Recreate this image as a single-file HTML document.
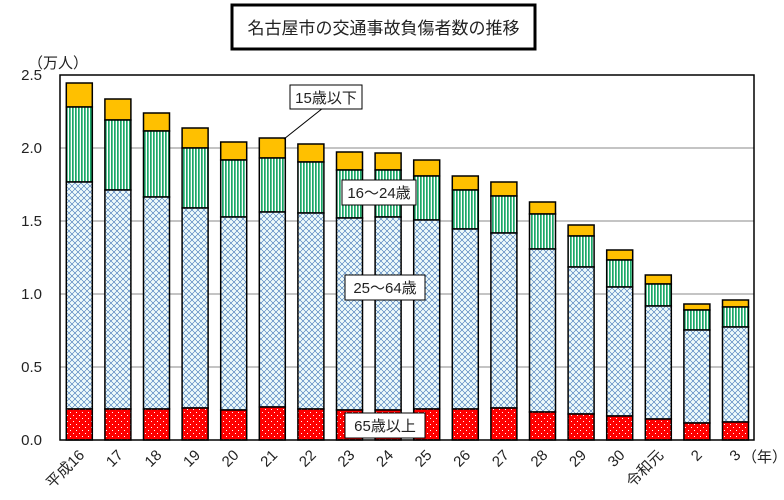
<!DOCTYPE html>
<html><head><meta charset="utf-8"><style>
body{margin:0;background:#fff}
svg{display:block;font-family:"Liberation Sans","Noto Sans CJK JP",sans-serif}
</style></head><body>
<svg width="784" height="500" viewBox="0 0 784 500" xmlns="http://www.w3.org/2000/svg">
<defs>
<pattern id="dots" width="6" height="6" patternUnits="userSpaceOnUse"><rect width="6" height="6" fill="#FF0000"/><rect x="1" y="1" width="1" height="1" fill="#fff"/><rect x="4" y="4" width="1" height="1" fill="#fff"/></pattern>
<pattern id="cross" width="6" height="6" patternUnits="userSpaceOnUse"><rect width="6" height="6" fill="#EEFBFB"/><path d="M0 0L6 6M6 0L0 6" stroke="#3A6FB5" stroke-width="0.6"/></pattern>
<pattern id="vert" width="3" height="4" patternUnits="userSpaceOnUse"><rect width="3" height="4" fill="#fff"/><rect width="1.7" height="4" fill="#1AA868"/></pattern>
</defs>
<rect x="232" y="5" width="303" height="44" fill="#fff" stroke="#000" stroke-width="3"/>
<text x="383.5" y="34" font-size="17" text-anchor="middle" fill="#222">名古屋市の交通事故負傷者数の推移</text>
<g stroke="#888" stroke-width="1">
<line x1="60" y1="148" x2="754" y2="148"/><line x1="60" y1="221" x2="754" y2="221"/><line x1="60" y1="294" x2="754" y2="294"/><line x1="60" y1="367" x2="754" y2="367"/>
</g>
<g font-size="15" fill="#222" text-anchor="end">
<text x="42" y="80">2.5</text><text x="42" y="153">2.0</text><text x="42" y="226">1.5</text><text x="42" y="299">1.0</text><text x="42" y="372">0.5</text><text x="42" y="445">0.0</text>
</g>
<text x="28" y="68" font-size="15" fill="#222">（万人）</text>
<g id="bars" stroke="#000" stroke-width="1.5"></g>
<rect x="60" y="75" width="694" height="365" fill="none" stroke="#000" stroke-width="1.5"/>
<g id="xl"></g>
<text x="742" y="462" font-size="15" fill="#222">（年）</text>
<line x1="284" y1="139" x2="323" y2="108" stroke="#000" stroke-width="1"/>
<g font-size="15" fill="#222" text-anchor="middle">
<rect x="290" y="85" width="72" height="24" fill="#fff" stroke="#000"/><text x="326" y="103">15歳以下</text>
<rect x="342" y="180" width="74" height="25" fill="#fff" stroke="#000"/><text x="379" y="198">16～24歳</text>
<rect x="345" y="275" width="80" height="25" fill="#fff" stroke="#000"/><text x="385" y="293">25～64歳</text>
<rect x="345" y="413" width="80" height="25" fill="#fff" stroke="#000"/><text x="385" y="431">65歳以上</text>
</g>
</svg>
<script>
var NS='http://www.w3.org/2000/svg';
var d=[[83,107,182,409],[99,120,190,409],[113,131,197,409],[128,148,208,408],[142,160,217,410],[138,158,212,407],[144,162,213,409],[152,170,218,410],[153,170,217,410],[160,176,220,409],[176,190,229,409],[182,196,233,408],[202,214,249,412],[225,236,267,414],[250,260,287,416],[275,284,306,419],[304,310,330,423],[300,307,327,422]];
var g=document.getElementById('bars'),xl=document.getElementById('xl');
var fills=['#FFC000','url(#vert)','url(#cross)','url(#dots)'];
var labs=['平成16','17','18','19','20','21','22','23','24','25','26','27','28','29','30','令和元','2','3'];
d.forEach(function(b,i){var x=79.3+i*38.6-13;var ys=b.concat([440]);
for(var k=0;k<4;k++){var r=document.createElementNS(NS,'rect');r.setAttribute('x',x.toFixed(1));r.setAttribute('y',ys[k]);r.setAttribute('width',26);r.setAttribute('height',ys[k+1]-ys[k]);r.setAttribute('fill',fills[k]);g.appendChild(r);}
var cx=(79.3+i*38.6+6).toFixed(1);var t=document.createElementNS(NS,'text');t.setAttribute('x',cx);t.setAttribute('y',456);t.setAttribute('font-size',15);t.setAttribute('fill','#222');t.setAttribute('text-anchor','end');t.setAttribute('transform','rotate(-45 '+cx+' 456)');t.textContent=labs[i];xl.appendChild(t);});
</script>
</body></html>
